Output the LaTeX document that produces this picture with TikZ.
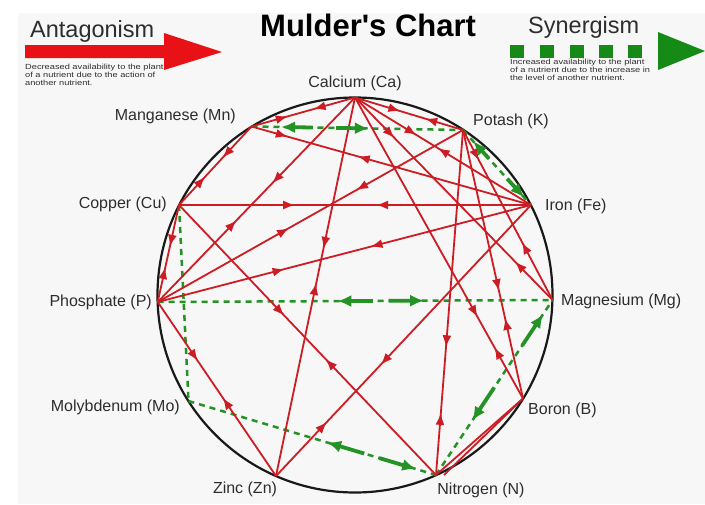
\documentclass[tikz,border=0pt]{standalone}
\usepackage{fontspec}
\setmainfont{Liberation Sans}
\newfontfamily\descfont{Liberation Sans}[FakeStretch=1.25]
\usetikzlibrary{arrows.meta,decorations.markings,calc}
\definecolor{antred}{RGB}{204,28,36}
\definecolor{legred}{RGB}{232,18,22}
\definecolor{syngreen}{RGB}{36,146,36}
\definecolor{leggreen}{RGB}{22,138,22}
\definecolor{labgray}{RGB}{45,45,45}
\definecolor{bggray}{RGB}{247,247,247}
\definecolor{circblack}{RGB}{25,25,25}
\tikzset{
  ant/.style 2 args={draw=antred, line width=1.8pt, postaction={decorate},
    decoration={markings,
      mark=at position #1 with {\arrow{Latex[length=12pt,width=9pt]}},
      mark=at position #2 with {\arrowreversed{Latex[length=12pt,width=9pt]}}}},
  antplain/.style={draw=antred, line width=1.8pt},
  syn/.style={draw=syngreen, line width=2.5pt, dash pattern=on 6pt off 5pt},
  synarr/.style={draw=syngreen, line width=3.8pt, -{Latex[length=14pt,width=12pt]}},
  lab/.style={font=\fontsize{16}{19}\selectfont, text=labgray, inner sep=0pt},
  desc/.style={font=\descfont\fontsize{7.4}{8.4}\selectfont, text=labgray, inner sep=0pt, align=left, anchor=north west},
}
\begin{document}
\begin{tikzpicture}[x=1pt,y=-1pt]
\useasboundingbox (0,0) rectangle (705,504);
\fill[bggray] (18,13) rectangle (705,504);

% legend
\node[font=\fontsize{31}{36}\selectfont\bfseries, anchor=base west, inner sep=0pt] (title) at (260,36) {Mulder\textquotesingle s Chart};
\node[font=\fontsize{23.5}{27}\selectfont, anchor=base west, inner sep=0pt, text=labgray] (antag) at (30,37) {Antagonism};
\node[font=\fontsize{23.5}{27}\selectfont, anchor=base west, inner sep=0pt, text=labgray] (syner) at (528,33) {Synergism};
\fill[legred] (25,45) -- (164,45) -- (164,33) -- (222,52) -- (164,70) -- (164,58) -- (25,58) -- cycle;
\foreach \sx in {510,540,570,599,628} \fill[leggreen] (\sx,45) rectangle (\sx+13.5,58);
\fill[leggreen] (658,32) -- (705,51) -- (658,70) -- cycle;
\node[desc] (antdesc) at (25,63.5) {Decreased availability to the plant\\of a nutrient due to the action of\\another nutrient.};
\node[desc] (syndesc) at (510,58.5) {Increased availability to the plant\\of a nutrient due to the increase in\\the level of another nutrient.};

% points on the circle
\coordinate (O) at (355,295);
\coordinate (Ca) at (355,97.5);
\coordinate (K) at (463,130);
\coordinate (Fe) at (531,205);
\coordinate (Mg) at (552.5,300);
\coordinate (B) at (523,398.5);
\coordinate (N) at (436,475);
\coordinate (Zn) at (276,476);
\coordinate (Mo) at (188.5,401);
\coordinate (P) at (157.7,302);
\coordinate (Cu) at (179,205);
\coordinate (Mn) at (251.5,126.5);

\draw[line width=2.2pt, draw=circblack] (O) circle[radius=197.5pt];

% synergism (dashed green)
\draw[syn] (Mn) -- (K);
\draw[syn] (K) -- (Fe);
\draw[syn] (P) -- (Mg);
\draw[syn] (Mo) -- (N);
\draw[syn] (N) -- (Mg);
\draw[syn] (Cu) -- (Mo);

% antagonism (red)
\draw[ant={0.4}{0.65}] (Ca) -- (Mn);
\draw[ant={0.42}{0.65}] (Ca) -- (K);
\draw[ant={0.35}{0.47}] (Ca) -- (Fe);
\draw[ant={0.2}{0.81}] (Ca) -- (Mg);
\draw[ant={0.73}{0.83}] (Ca) -- (B);
\draw[ant={0.4}{0.49}] (Ca) -- (Zn);
\draw[ant={0.42}{0.6}] (Ca) -- (P);
\draw[ant={0.4}{0.64}] (Mn) -- (Cu);
\draw[ant={0.13}{0.38}] (Mn) -- (Fe);
\draw[ant={0.43}{0.64}] (Cu) -- (P);
\draw[ant={0.33}{0.56}] (Cu) -- (Fe);
\draw[ant={0.41}{0.57}] (Cu) -- (N);
\draw[ant={0.43}{0.65}] (P) -- (K);
\draw[ant={0.34}{0.57}] (P) -- (Fe);
\draw[ant={0.34}{0.55}] (P) -- (Zn);
\draw[ant={0.18}{0.66}] (K) -- (Mg);
\draw[ant={0.6}{0.7}] (K) -- (B);
\draw[ant={0.63}{0.82}] (K) -- (N);
\draw[ant={0.2}{0.41}] (Zn) -- (Fe);
\draw[antplain] (N) -- (B);
\draw[antplain] ($(N)+(8,0)$) -- (B);

% synergism arrows
\draw[synarr] ($(Mn)!0.29!(K)$) -- ($(Mn)!0.14!(K)$);
\draw[synarr] ($(Mn)!0.40!(K)$) -- ($(Mn)!0.555!(K)$);
\draw[synarr] ($(K)!0.38!(Fe)$) -- ($(K)!0.15!(Fe)$);
\draw[synarr] ($(K)!0.65!(Fe)$) -- ($(K)!0.9!(Fe)$);
\draw[synarr] ($(P)!0.545!(Mg)$) -- ($(P)!0.455!(Mg)$);
\draw[synarr] ($(P)!0.585!(Mg)$) -- ($(P)!0.675!(Mg)$);
\draw[synarr] ($(Mo)!0.71!(N)$) -- ($(Mo)!0.56!(N)$);
\draw[synarr] ($(Mo)!0.77!(N)$) -- ($(Mo)!0.92!(N)$);
\draw[synarr] ($(N)!0.5!(Mg)$) -- ($(N)!0.31!(Mg)$);
\draw[synarr] ($(N)!0.74!(Mg)$) -- ($(N)!0.92!(Mg)$);

% labels
\node[lab] (tCa) at (355,83) {Calcium (Ca)};
\node[lab, anchor=east] (tMn) at (236,116) {Manganese (Mn)};
\node[lab, anchor=west] (tK) at (473,121) {Potash (K)};
\node[lab, anchor=east] (tCu) at (167,204) {Copper (Cu)};
\node[lab, anchor=west] (tFe) at (545,206) {Iron (Fe)};
\node[lab, anchor=east] (tP) at (152,302) {Phosphate (P)};
\node[lab, anchor=west] (tMg) at (561,301) {Magnesium (Mg)};
\node[lab, anchor=east] (tMo) at (180,407) {Molybdenum (Mo)};
\node[lab, anchor=west] (tB) at (528,410) {Boron (B)};
\node[lab] (tZn) at (245,489) {Zinc (Zn)};
\node[lab] (tN) at (481,490) {Nitrogen (N)};
\end{tikzpicture}
\end{document}
